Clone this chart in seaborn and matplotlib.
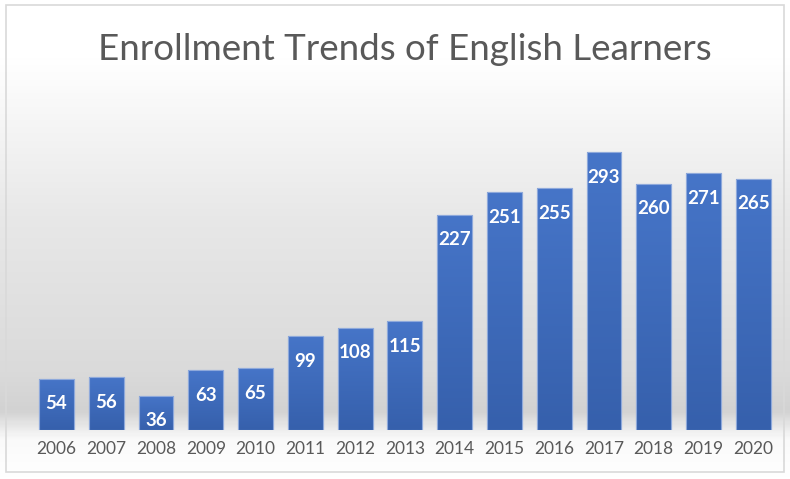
import numpy as np
import pandas as pd
import seaborn as sns
import matplotlib.pyplot as plt
from matplotlib.colors import LinearSegmentedColormap
from matplotlib.patches import Rectangle

years = ['2006', '2007', '2008', '2009', '2010', '2011', '2012', '2013',
         '2014', '2015', '2016', '2017', '2018', '2019', '2020']
enrollment = [54, 56, 36, 63, 65, 99, 108, 115, 227, 251, 255, 293, 260, 271, 265]
title = 'Enrollment Trends of English Learners'

df = pd.DataFrame({'year': years, 'enrollment': enrollment})

sns.set_style('white')
plt.rcParams['font.family'] = ['Lato', 'DejaVu Sans']

fig = plt.figure(figsize=(7.9, 4.79), dpi=100)

# background gradient for the whole chart area
bg = fig.add_axes([0, 0, 1, 1], zorder=0)
bg_cmap = LinearSegmentedColormap.from_list(
    'bg', [(0.0, '#ffffff'), (0.12, '#ffffff'), (0.45, '#e8e8e8'),
           (0.78, '#dadada'), (0.86, '#d2d2d2'), (0.92, '#fafafa'), (1.0, '#ffffff')])
bg.imshow(np.linspace(0, 1, 300).reshape(-1, 1), aspect='auto', cmap=bg_cmap,
          extent=[0, 1, 0, 1], origin='upper')
bg.add_patch(Rectangle((0.007, 0.015), 0.986, 0.975, transform=bg.transAxes,
                       fill=False, edgecolor='#d9d9d9', linewidth=1.2))
bg.set_xlim(0, 1)
bg.set_ylim(0, 1)
bg.axis('off')

ax = fig.add_axes([0.040, 0.102, 0.945, 0.693], zorder=1)
ax.patch.set_alpha(0)
sns.barplot(data=df, x='year', y='enrollment', color='#4472C4', width=0.70,
            edgecolor='#8EA9DB', linewidth=0.8, ax=ax)

# vertical gradient inside each bar
bar_cmap = LinearSegmentedColormap.from_list('bar', ['#4675C8', '#3660AC'])
grad = np.linspace(0, 1, 100).reshape(-1, 1)
for p in ax.patches:
    x0, w, h = p.get_x(), p.get_width(), p.get_height()
    im = ax.imshow(grad, aspect='auto', cmap=bar_cmap, origin='upper',
                   extent=[x0, x0 + w, 0, h], zorder=p.get_zorder() + 0.1)
    im.set_clip_path(p)
    ax.add_patch(Rectangle((x0, 0), w, h, fill=False, edgecolor='#8EA9DB',
                           linewidth=0.8, zorder=p.get_zorder() + 0.2))

for i, v in enumerate(enrollment):
    ax.annotate(str(v), xy=(i, v), xytext=(0, -25), textcoords='offset pixels',
                ha='center', va='center', color='white', fontsize=13.5,
                fontweight='bold', zorder=5)

ax.set_xlim(-0.5, len(years) - 0.5)
ax.set_ylim(0, 350)
ax.set_xlabel('')
ax.set_ylabel('')
ax.set_yticks([])
ax.tick_params(axis='x', length=0, pad=8, labelsize=12.5, labelcolor='#595959')
sns.despine(ax=ax, left=True, bottom=True)

fig.text(0.513, 0.897, title, ha='center', va='center', fontsize=26.5, color='#595959')

fig.savefig('out.png', dpi=100)
